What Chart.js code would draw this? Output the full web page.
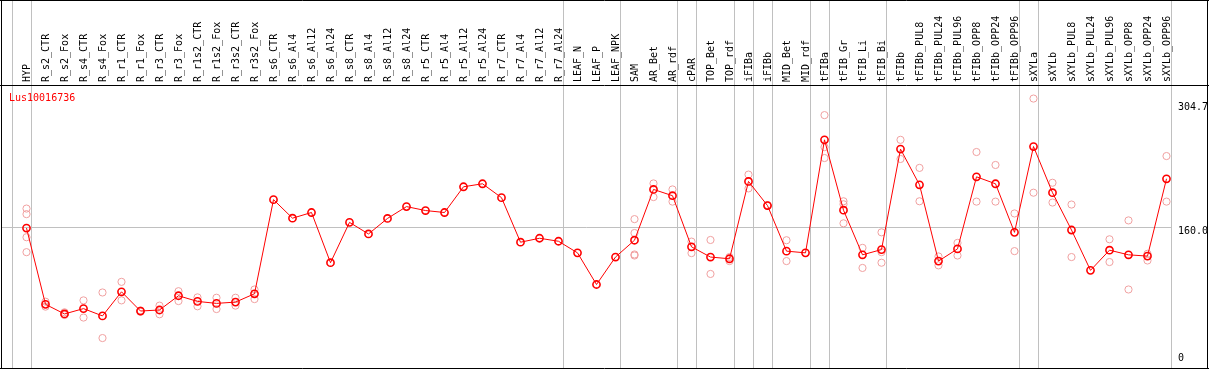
<!DOCTYPE html>
<html>
<head>
<meta charset="utf-8">
<script src="https://cdn.jsdelivr.net/npm/chart.js@4/dist/chart.umd.min.js"></script>
<style>
  body { margin: 0; background: #fff; }
  canvas { display: block; }
</style>
</head>
<body>
<canvas id="exprChart" width="1209" height="370"></canvas>
<script>
// Lus10016736 expression profile
const geneName = 'Lus10016736';

const categories = [
    'HYP', 'R_s2_CTR', 'R_s2_Fox', 'R_s4_CTR', 'R_s4_Fox', 'R_r1_CTR', 'R_r1_Fox',
    'R_r3_CTR', 'R_r3_Fox', 'R_r1s2_CTR', 'R_r1s2_Fox', 'R_r3s2_CTR', 'R_r3s2_Fox',
    'R_s6_CTR', 'R_s6_Al4', 'R_s6_Al12', 'R_s6_Al24', 'R_s8_CTR', 'R_s8_Al4',
    'R_s8_Al12', 'R_s8_Al24', 'R_r5_CTR', 'R_r5_Al4', 'R_r5_Al12', 'R_r5_Al24',
    'R_r7_CTR', 'R_r7_Al4', 'R_r7_Al12', 'R_r7_Al24', 'LEAF_N', 'LEAF_P', 'LEAF_NPK',
    'SAM', 'AR_Bet', 'AR_rdf', 'cPAR', 'TOP_Bet', 'TOP_rdf', 'iFIBa', 'iFIBb',
    'MID_Bet', 'MID_rdf', 'tFIBa', 'tFIB_Gr', 'tFIB_Li', 'tFIB_Bi', 'tFIBb',
    'tFIBb_PUL8', 'tFIBb_PUL24', 'tFIBb_PUL96', 'tFIBb_OPP8', 'tFIBb_OPP24', 'tFIBb_OPP96',
    'sXYLa', 'sXYLb', 'sXYLb_PUL8', 'sXYLb_PUL24', 'sXYLb_PUL96', 'sXYLb_OPP8',
    'sXYLb_OPP24', 'sXYLb_OPP96'
];

const meanValues = [
    158.9, 70.0, 58.8, 65.0, 56.5, 84.6, 62.2,
    63.4, 80.0, 73.4, 71.1, 72.6, 82.3,
    192.0, 170.4, 177.0, 118.5, 165.5, 152.0,
    170.1, 183.9, 179.3, 177.0, 207.0, 210.5,
    194.3, 142.4, 147.0, 143.5, 130.0, 93.1, 125.1,
    144.7, 203.9, 196.6, 137.0, 125.1, 123.1, 213.2, 185.1,
    132.0, 130.0, 261.7, 179.7, 127.7, 133.8, 250.9,
    209.3, 120.4, 134.6, 218.6, 210.5, 153.9,
    253.9, 200.1, 156.6, 109.6, 133.1, 127.7,
    126.2, 216.3
];

// individual replicates, one list per category
const replicateValues = [
    [181.6, 175.1, 148.2, 130.8], [73.1, 67.3], [60.7, 57.6], [74.6, 54.6], [83.8, 30.7],
    [96.2, 74.6], [62.9, 61.5], [68.5, 58.4], [85.3, 73.8], [78.1, 67.7], [77.7, 64.5],
    [77.7, 68.5], [87.3, 76.1],
    [], [], [], [], [], [], [], [], [], [], [], [], [], [], [], [],
    [], [], [],
    [169.3, 153.1, 128.1, 126.9], [210.9, 195.0], [203.9, 189.7], [143.1, 129.7],
    [145.0, 105.4], [125.1, 120.4], [221.2, 205.1], [185.6, 184.6],
    [144.7, 120.4], [], [290.5, 253.2, 240.5], [190.1, 186.6, 164.4], [135.8, 112.4],
    [153.9, 130.8, 118.5], [261.7, 239.4],
    [229.0, 190.1], [125.8, 115.4], [141.6, 126.9], [247.5, 189.7], [232.4, 189.7], [175.9, 132.0],
    [309.8, 200.1], [211.7, 188.6], [186.3, 125.1], [], [145.8, 119.3], [167.8, 87.3],
    [128.9, 121.1], [242.8, 189.7]
];

const yTicks = [0, 160.0, 304.7];
// group separators are drawn just after these category indexes
const groupEnds = [-1, 0, 28, 31, 34, 35, 37, 38, 39, 41, 42, 45, 52, 53, 60];

const monoFont = "'DejaVu Sans Mono', 'Liberation Mono', monospace";

const replicatePoints = [];
replicateValues.forEach(function(reps, i) {
    reps.forEach(function(v) {
        replicatePoints.push({ x: categories[i], y: v });
    });
});

// frame, group separators, gridline, title and axis labels
const framePlugin = {
    id: 'framePlugin',
    beforeDatasetsDraw(chart) {
        const ctx = chart.ctx;
        const xs = chart.scales.x;
        const ys = chart.scales.y;
        const W = chart.width;
        const step = xs.getPixelForValue(1) - xs.getPixelForValue(0);
        const lastSep = xs.getPixelForValue(0) + step * 60 + 4;
        ctx.save();
        ctx.strokeStyle = '#c0c0c0';
        ctx.lineWidth = 1;
        groupEnds.forEach(function(i) {
            const x = Math.round(xs.getPixelForValue(0) + step * i + 4) + 0.5;
            ctx.beginPath();
            ctx.moveTo(x, 0);
            ctx.lineTo(x, 368);
            ctx.stroke();
        });
        const gy = Math.round(ys.getPixelForValue(160)) + 0.5;
        ctx.beginPath();
        ctx.moveTo(1, gy);
        ctx.lineTo(Math.round(lastSep) + 0.5, gy);
        ctx.stroke();

        ctx.strokeStyle = '#000';
        ctx.beginPath();
        ctx.moveTo(0, 0.5); ctx.lineTo(W, 0.5);
        ctx.moveTo(1.5, 0); ctx.lineTo(1.5, 369);
        ctx.moveTo(W - 1.5, 0); ctx.lineTo(W - 1.5, 369);
        ctx.moveTo(0, 368.5); ctx.lineTo(W, 368.5);
        ctx.moveTo(0, 85.5); ctx.lineTo(W, 85.5);
        ctx.stroke();

        ctx.font = '10px ' + monoFont;
        ctx.fillStyle = '#ff0000';
        ctx.textAlign = 'left';
        ctx.textBaseline = 'top';
        ctx.fillText(geneName, 9, 93);

        ctx.fillStyle = '#000';
        yTicks.forEach(function(v) {
            const py = ys.getPixelForValue(v);
            const txt = v === 0 ? '0' : v.toFixed(1);
            if (v === 0) {
                ctx.textBaseline = 'bottom';
                ctx.fillText(txt, 1178, py - 1);
            } else {
                ctx.textBaseline = 'top';
                ctx.fillText(txt, 1178, py - 1);
            }
        });
        ctx.restore();
    }
};

new Chart(document.getElementById('exprChart'), {
    type: 'line',
    data: {
        labels: categories,
        datasets: [{
            label: geneName,
            data: meanValues,
            borderColor: '#ff0000',
            borderWidth: 1,
            pointStyle: 'circle',
            pointRadius: 3.6,
            pointBorderWidth: 1.6,
            pointBorderColor: '#ff0000',
            pointBackgroundColor: 'rgba(255,255,255,0)',
            tension: 0,
            order: 1
        }, {
            label: 'replicates',
            data: replicatePoints,
            showLine: false,
            pointRadius: 3.6,
            pointBorderWidth: 1,
            pointBorderColor: '#f0a0a0',
            pointBackgroundColor: 'rgba(255,255,255,0)',
            order: 2
        }]
    },
    options: {
        responsive: false,
        animation: false,
        layout: { padding: { left: 17, right: 33, top: 0, bottom: 3 } },
        plugins: {
            legend: { display: false },
            tooltip: { enabled: false }
        },
        scales: {
            x: {
                type: 'category',
                position: 'top',
                offset: true,
                afterFit: function(scale) { scale.height = 85; },
                grid: { display: false, drawTicks: false },
                border: { display: false },
                ticks: {
                    autoSkip: false,
                    minRotation: 90,
                    maxRotation: 90,
                    padding: 3,
                    labelOffset: 13,
                    color: '#000',
                    font: { family: monoFont, size: 10 }
                }
            },
            y: {
                display: false,
                min: 0,
                max: 325.6
            }
        }
    },
    plugins: [framePlugin]
});
</script>
</body>
</html>
